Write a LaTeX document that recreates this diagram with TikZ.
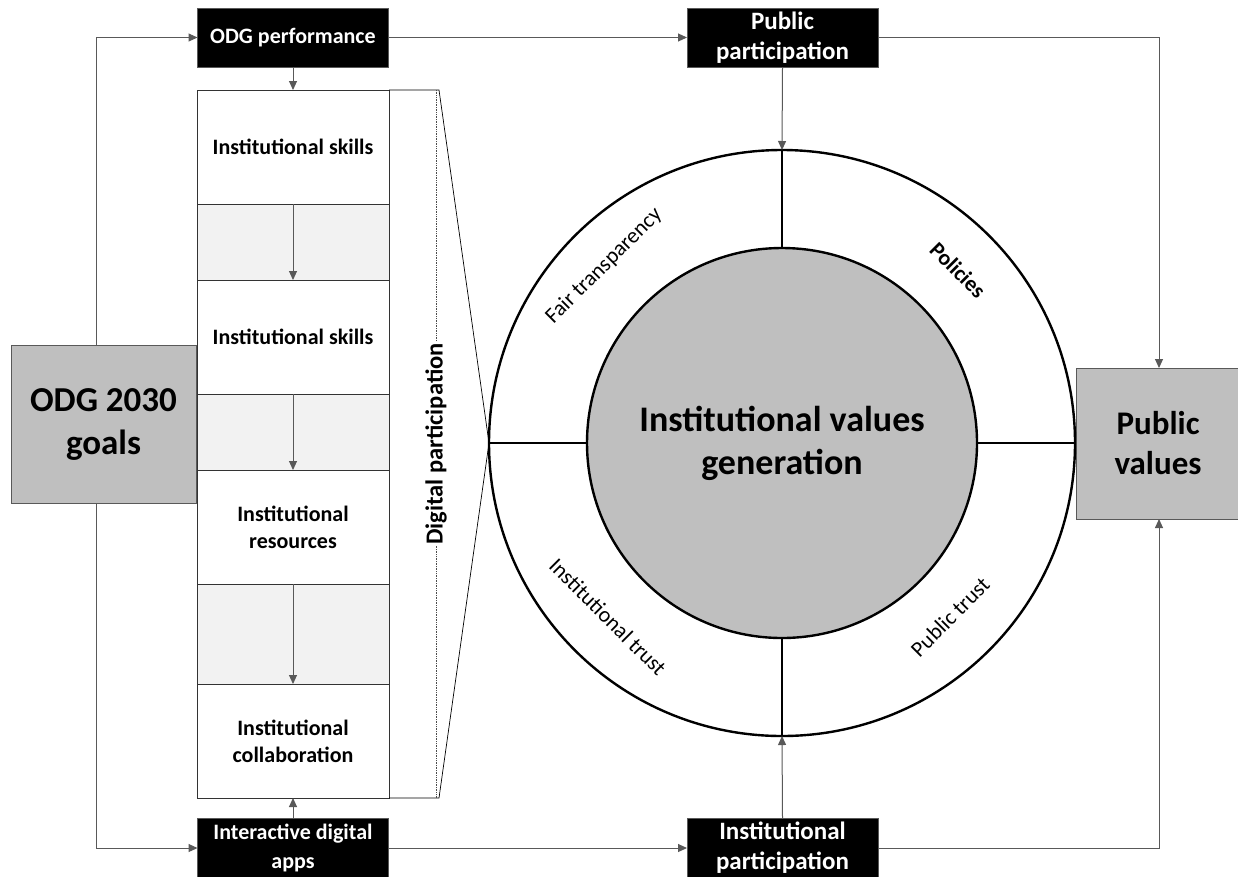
\documentclass[tikz,border=0pt]{standalone}
\usepackage{fontspec}
\setmainfont{Carlito}
\usetikzlibrary{arrows.meta}
\definecolor{boxgray}{HTML}{BFBFBF}
\definecolor{bandgray}{HTML}{F2F2F2}
\definecolor{linegray}{HTML}{595959}
\begin{document}
\begin{tikzpicture}[x=1pt,y=-1pt,
  blackbox/.style={draw=linegray, fill=black, text=white, font=\bfseries\fontsize{22}{29}\selectfont, minimum width=191pt, minimum height=59pt, inner sep=0pt, outer sep=0pt, align=center},
  bigblack/.style={blackbox, font=\bfseries\fontsize{25}{30}\selectfont},
  graybox/.style={draw=linegray, line width=1pt, fill=boxgray, inner sep=0pt, outer sep=0pt, align=center},
  cell/.style={draw=black!80, line width=0.8pt, fill=white, minimum width=192pt, inner sep=0pt, outer sep=0pt, align=center, font=\bfseries\fontsize{22}{27}\selectfont},
  band/.style={draw=black!80, line width=0.8pt, fill=bandgray, minimum width=192pt, inner sep=0pt, outer sep=0pt},
  conn/.style={draw=linegray, line width=1pt},
  arr/.style={conn, -{Triangle[length=9pt,width=8pt]}},
  ring/.style={line width=2.4pt, draw=black},
  ringlabel/.style={font=\fontsize{22}{26}\selectfont, inner sep=0pt}
]
\useasboundingbox (0,0) rectangle (1238,876);
\fill[white] (0,0) rectangle (1238,876);
\clip (0,0) rectangle (1238,876);

% left goals box
\node[graybox, minimum width=185pt, minimum height=158pt, font=\bfseries\fontsize{35}{43}\selectfont] (goals) at (103.5,424) {ODG 2030\\goals};
% black boxes
\node[blackbox] (odgp) at (293,37.5) {ODG performance};
\node[bigblack] (pubp) at (782.5,37.5) {Public\\participation};
\node[blackbox, minimum height=60pt] (iapps) at (293,848) {Interactive digital\\apps};
\node[bigblack, minimum height=60pt] (ipart) at (782.5,848) {Institutional\\participation};
% public values
\node[graybox, minimum width=164pt, minimum height=151pt, font=\bfseries\fontsize{33}{40}\selectfont] (pubv) at (1158,443.5) {Public\\values};

% column
\node[cell, minimum height=114pt] (s1) at (293,147) {Institutional skills};
\node[band, minimum height=76pt] (g1) at (293,242) {};
\node[cell, minimum height=114pt] (s2) at (293,337) {Institutional skills};
\node[band, minimum height=76pt] (g2) at (293,432) {};
\node[cell, minimum height=114pt] (s3) at (293,527) {Institutional\\resources};
\node[band, minimum height=100pt] (g3) at (293,634) {};
\node[cell, minimum height=114pt] (s4) at (293,741) {Institutional\\collaboration};

% circles
\node[circle, ring, fill=white, minimum size=586pt, inner sep=0pt, outer sep=0pt] (outer) at (782,443) {};
\node[circle, ring, fill=boxgray, minimum size=390pt, inner sep=0pt, outer sep=0pt, font=\bfseries\fontsize{36}{43}\selectfont, align=center] (inner) at (782,443) {Institutional values\\generation};
\draw[ring] (outer.west) -- (inner.west);
\draw[ring] (inner.east) -- (outer.east);
\draw[ring] (outer.north) -- (inner.north);
\draw[ring] (inner.south) -- (outer.south);

% ring labels
\node[ringlabel, rotate=45] (ft) at (604,266) {Fair transparency};
\node[ringlabel, rotate=-45, font=\bfseries\fontsize{22}{26}\selectfont] (pol) at (958,270) {Policies};
\node[ringlabel, rotate=-45] (it) at (608,617) {Institutional trust};
\node[ringlabel, rotate=45] (pt) at (950,617) {Public trust};

% digital participation strip
\coordinate (dtop) at (439,90);
\coordinate (dbot) at (439,798);
\draw[black, line width=0.7pt] (s1.north east) -- (dtop) -- (outer.west) -- (dbot) -- (s4.south east);
\draw[black!70, line width=0.7pt, densely dotted] (436,90) -- (436,798);
\node[rotate=90, fill=white, inner sep=1pt, font=\bfseries\fontsize{24.5}{28}\selectfont] (dp) at (436,444) {Digital participation};

% connectors
\draw[arr] ([xshift=-7.5pt]goals.north) |- (odgp.west);
\draw[arr] ([xshift=-7.5pt]goals.south) |- (iapps.west);
\draw[arr] (odgp.east) -- (pubp.west);
\draw[arr] (iapps.east) -- (ipart.west);
\draw[arr] (pubp.east) -| ([xshift=1pt]pubv.north);
\draw[arr] (ipart.east) -| ([xshift=1pt]pubv.south);
\draw[arr] (pubp.south) -- (outer.north);
\draw[arr] (ipart.north) -- (outer.south);
\draw[arr] (odgp.south) -- (s1.north);
\draw[arr] (iapps.north) -- (s4.south);
\draw[arr] (s1.south) -- (s2.north);
\draw[arr] (s2.south) -- (s3.north);
\draw[arr] (s3.south) -- (s4.north);
\end{tikzpicture}
\end{document}
